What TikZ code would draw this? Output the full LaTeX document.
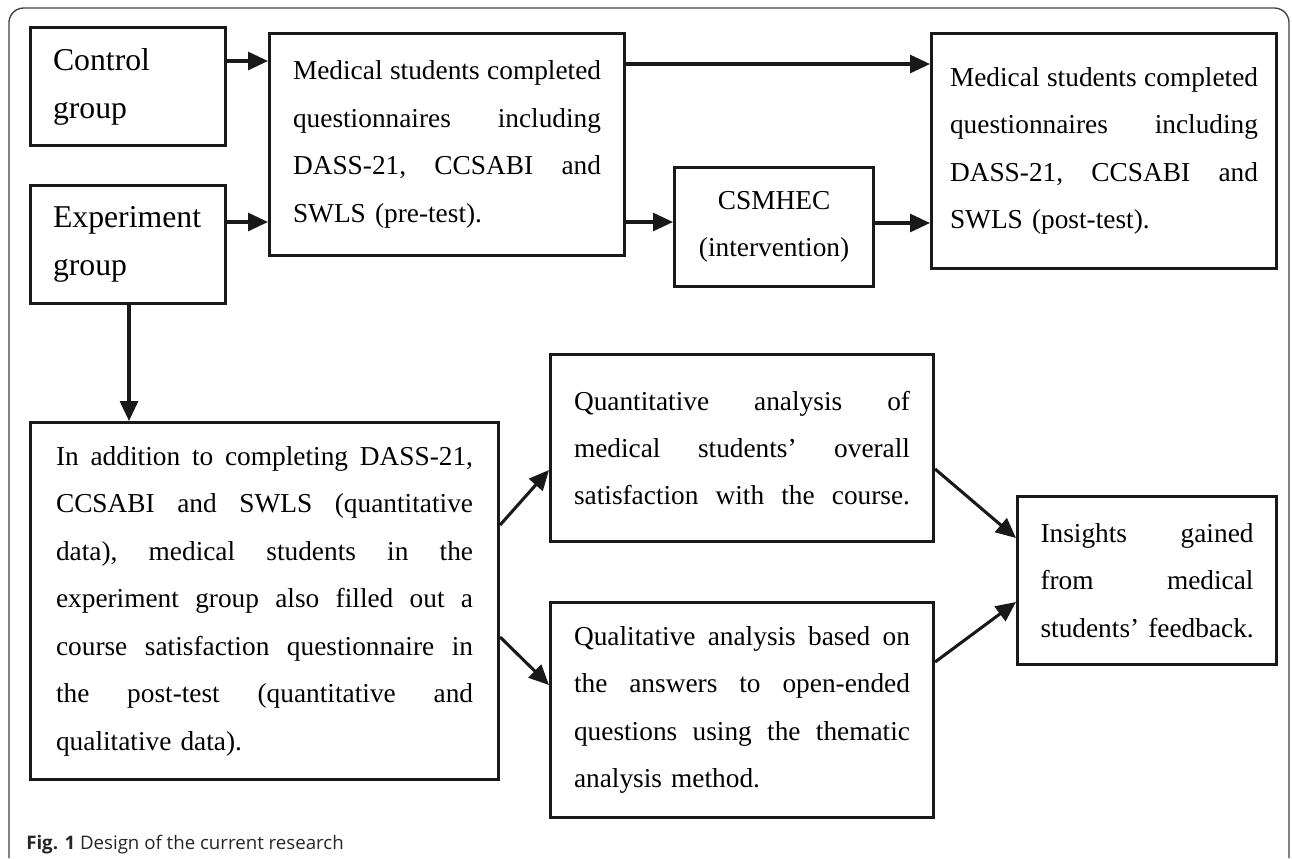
\documentclass[tikz,border=0pt]{standalone}
\usepackage{fontspec}
\setmainfont{Liberation Serif}
\newfontfamily\capfont{Open Sans}
\usetikzlibrary{arrows.meta}
\newcommand\J[2]{\leavevmode\hbox to #1{#2}}
\newcommand\wsp{\hskip 0.2em plus 1fil\relax}
\newcommand\bodyfont{\fontsize{20.5pt}{35.6pt}\selectfont}
\newcommand\grpfont{\fontsize{23.8pt}{36pt}\selectfont}
\begin{document}
\begin{tikzpicture}[x=0.75pt,y=-0.75pt,
  box/.style={draw=black!90, line width=2.3pt, anchor=north west, inner sep=0pt, font=\bodyfont, align=left},
  grp/.style={box, font=\grpfont, text width=112.5pt, minimum width=146.25pt, minimum height=88.5pt},
  arr/.style={line width=2.3pt, draw=black!90, -{Triangle[length=15pt,width=13.5pt]}},
  frame/.style={line width=1pt, draw=black!75, rounded corners=11pt}]
\useasboundingbox (0,0) rectangle (1292,858);
\draw[frame] (9,858) -- (9,8) -- (1289,8) -- (1289,858);

\node[grp] (ctrl) at (29,26) {Control\\group};
\node[grp] (exp) at (29,184) {Experiment\\group};
\node[box, text width=231pt, minimum width=266.25pt, minimum height=166.5pt] (m1) at (268,32)
  {\J{231pt}{Medical\wsp students\wsp completed}\\\J{231pt}{questionnaires\wsp including}\\\J{231pt}{DASS-21,\wsp CCSABI\wsp and}\\\mbox{SWLS (pre-test).}};
\node[box, text width=231pt, minimum width=258.75pt, minimum height=176.25pt] (m2) at (930,32)
  {\J{231pt}{Medical\wsp students\wsp completed}\\\J{231pt}{questionnaires\wsp including}\\\J{231pt}{DASS-21,\wsp CCSABI\wsp and}\\\mbox{SWLS (post-test).}};
\node[box, align=center, minimum width=149.25pt, minimum height=89.25pt] (cs) at (673,166)
  {CSMHEC\\(intervention)};
\node[box, text width=312.75pt, minimum width=351pt, minimum height=267.75pt] (big) at (29,421)
  {\J{312.75pt}{In\wsp addition\wsp to\wsp completing\wsp DASS-21,}\\
   \J{312.75pt}{CCSABI\wsp and\wsp SWLS\wsp (quantitative}\\
   \J{312.75pt}{data),\wsp medical\wsp students\wsp in\wsp the}\\
   \J{312.75pt}{experiment\wsp group\wsp also\wsp filled\wsp out\wsp a}\\
   \J{312.75pt}{course\wsp satisfaction\wsp questionnaire\wsp in}\\
   \J{312.75pt}{the\wsp post-test\wsp (quantitative\wsp and}\\
   \mbox{qualitative data).}};
\node[box, text width=252pt, minimum width=287.25pt, minimum height=140.25pt] (quant) at (549,353)
  {\J{252pt}{Quantitative\wsp analysis\wsp of}\\
   \J{252pt}{medical\wsp students’\wsp overall}\\
   \J{252pt}{satisfaction\wsp with\wsp the\wsp course.}};
\node[box, text width=252pt, minimum width=287.25pt, minimum height=161.25pt] (qual) at (549,601)
  {\J{252pt}{Qualitative\wsp analysis\wsp based\wsp on}\\
   \J{252pt}{the\wsp answers\wsp to\wsp open-ended}\\
   \J{252pt}{questions\wsp using\wsp the\wsp thematic}\\
   \mbox{analysis method.}};
\node[box, text width=159.75pt, minimum width=194.25pt, minimum height=126pt] (ins) at (1016,495)
  {\J{159.75pt}{Insights\wsp gained}\\\J{159.75pt}{from\wsp medical}\\\mbox{students’ feedback.}};

\node[anchor=base west, inner sep=0pt, font=\capfont\fontsize{14pt}{17pt}\selectfont, text=black!85] (cap) at (26,849)
  {\textbf{Fig. 1} Design of the current research};

\coordinate (ya) at (0,61);
\coordinate (yb) at (0,222);
\coordinate (yc) at (0,64);
\coordinate (yd) at (0,223);
\coordinate (xd) at (129,0);
\draw[arr] (ctrl.east |- ya) -- (m1.west |- ya);
\draw[arr] (exp.east |- yb) -- (m1.west |- yb);
\draw[arr] (m1.east |- yc) -- (m2.west |- yc);
\draw[arr] (m1.east |- yb) -- (cs.west |- yb);
\draw[arr] (cs.east |- yd) -- (m2.west |- yd);
\draw[arr] (exp.south -| xd) -- (big.north -| xd);
\coordinate (b1) at (497,525);
\coordinate (q1) at (549,470);
\coordinate (b2) at (497,637);
\coordinate (q2) at (549,685);
\coordinate (r1) at (932,469);
\coordinate (i1) at (1016,538);
\coordinate (r2) at (932,662);
\coordinate (i2) at (1016,602);
\draw[arr] (big.east |- b1) -- (quant.west |- q1);
\draw[arr] (big.east |- b2) -- (qual.west |- q2);
\draw[arr] (quant.east |- r1) -- (ins.west |- i1);
\draw[arr] (qual.east |- r2) -- (ins.west |- i2);
\end{tikzpicture}
\end{document}
